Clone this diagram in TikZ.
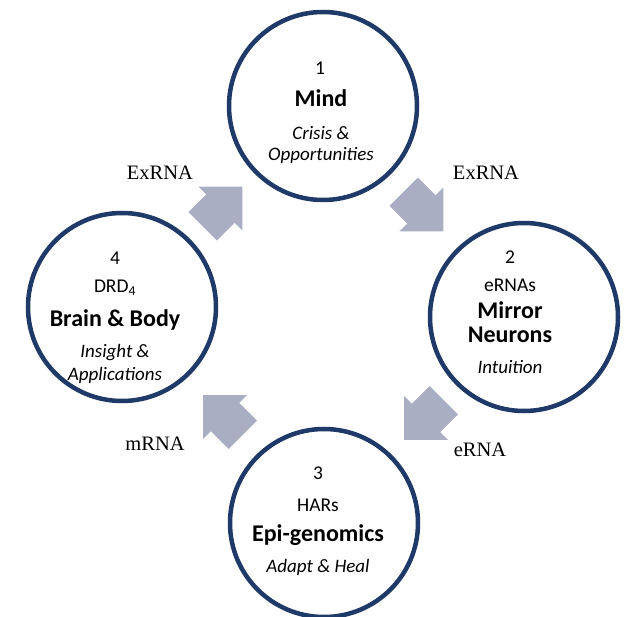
\documentclass[tikz,border=0pt]{standalone}
\usepackage{fontspec}
\setmainfont{Carlito}
\newfontfamily\labelfont{Liberation Serif}
\usetikzlibrary{calc}

\definecolor{ringblue}{RGB}{31,58,104}
\definecolor{arrowgray}{RGB}{170,174,194}

\tikzset{
  ring/.style={circle, draw=ringblue, line width=4.5pt, minimum size=188pt, inner sep=0pt},
  flow/.style={fill=arrowgray, draw=none},
  rnalabel/.style={font=\labelfont\fontsize{20.5}{24}\selectfont},
  numtext/.style={font=\fontsize{19.5}{23}\selectfont},
  titletext/.style={font=\bfseries\fontsize{24}{28}\selectfont},
  subtext/.style={font=\itshape\fontsize{19}{22}\selectfont}
}

% block arrow: centre, direction
\newcommand{\flowarrow}[2]{%
  \fill[flow, shift={(#1)}, rotate=#2]
    (-28,-20) -- (-3,-20) -- (-3,-31) -- (28,0) -- (-3,31) -- (-3,20) -- (-28,20) -- cycle;}

\begin{document}
\begin{tikzpicture}[x=1pt,y=-1pt]
  \useasboundingbox (0,0) rectangle (624,617);

  % the four stages
  \node[ring] (mind)   at (323,106) {};
  \node[ring] (mirror) at (524,317) {};
  \node[ring] (epi)    at (324,523) {};
  \node[ring] (brain)  at (122,307) {};

  \node[numtext]   at ($(mind)+(-3,-38)$) {1};
  \node[titletext] at ($(mind)+(-2,-8)$) {Mind};
  \node[subtext]   at ($(mind)+(-2,27)$) {Crisis \&};
  \node[subtext]   at ($(mind)+(-2,49)$) {Opportunities};

  \node[numtext]   at ($(mirror)+(-14,-60)$) {2};
  \node[numtext]   at ($(mirror)+(-14,-32)$) {eRNAs};
  \node[titletext] at ($(mirror)+(-14,-7)$) {Mirror};
  \node[titletext] at ($(mirror)+(-14,18)$) {Neurons};
  \node[subtext]   at ($(mirror)+(-14,50)$) {Intuition};

  \node[numtext]   at ($(epi)+(-6,-50)$) {3};
  \node[numtext]   at ($(epi)+(-6,-18)$) {HARs};
  \node[titletext] at ($(epi)+(-6,12)$) {Epi-genomics};
  \node[subtext]   at ($(epi)+(-6,44)$) {Adapt \& Heal};

  \node[numtext]   at ($(brain)+(-7,-49)$) {4};
  \node[numtext]   at ($(brain)+(-7,-19)$) {DRD\textsubscript{4}};
  \node[titletext] at ($(brain)+(-7,13)$) {Brain \& Body};
  \node[subtext]   at ($(brain)+(-7,46)$) {Insight \&};
  \node[subtext]   at ($(brain)+(-7,68)$) {Applications};

  % arrows between the stages
  \coordinate (fl12) at ($(mind)!0.5!(mirror)$);
  \coordinate (fl23) at ($(mirror)!0.5!(epi)$);
  \coordinate (fl34) at ($(epi)!0.5!(brain)$);
  \coordinate (fl41) at ($(brain)!0.5!(mind)$);
  \flowarrow{fl12}{-45}
  \flowarrow{fl23}{-135}
  \flowarrow{fl34}{135}
  \flowarrow{fl41}{45}

  \node[rnalabel] (lab12) at (486,173) {ExRNA};
  \node[rnalabel] (lab23) at (480,450) {eRNA};
  \node[rnalabel] (lab34) at (155,444) {mRNA};
  \node[rnalabel] (lab41) at (160,173) {ExRNA};
\end{tikzpicture}
\end{document}
